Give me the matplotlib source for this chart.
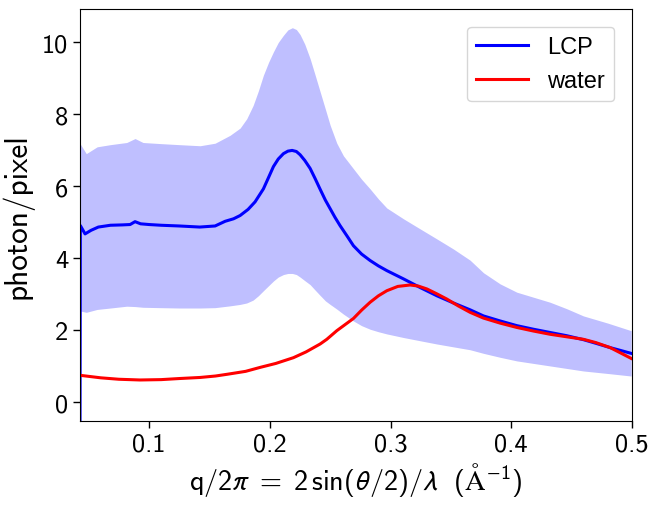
import matplotlib
matplotlib.use("Agg")
import matplotlib.pyplot as plt

plt.rcParams['mathtext.fontset'] = 'custom'
plt.rcParams['mathtext.rm'] = 'cmss10'
plt.rcParams['mathtext.it'] = 'cmmi10'
plt.rcParams['mathtext.sf'] = 'cmss10'
plt.rcParams['mathtext.fallback'] = 'stixsans'
plt.rcParams['axes.unicode_minus'] = False

# LCP mean curve
lcp_q = [0.0428, 0.0431, 0.0470, 0.0520, 0.0580, 0.0680, 0.0780, 0.0843, 0.0884, 0.0930,
         0.1000, 0.1100, 0.1250, 0.1420, 0.1547, 0.1630, 0.1700, 0.1754, 0.1820, 0.1878,
         0.1947, 0.1990, 0.2030, 0.2070, 0.2113, 0.2150, 0.2185, 0.2220, 0.2251, 0.2290,
         0.2334, 0.2375, 0.2417, 0.2460, 0.2500, 0.2540, 0.2582, 0.2640, 0.2693, 0.2760,
         0.2831, 0.2900, 0.2969, 0.3107, 0.3245, 0.3384, 0.3521, 0.3659, 0.3770, 0.3908,
         0.4046, 0.4184, 0.4322, 0.4460, 0.4598, 0.4700, 0.4819, 0.4993]
lcp_i = [-1.0, 4.91, 4.68, 4.78, 4.87, 4.92, 4.93, 4.94, 5.02, 4.96,
         4.94, 4.92, 4.90, 4.87, 4.90, 5.03, 5.10, 5.19, 5.36, 5.57,
         5.93, 6.25, 6.55, 6.76, 6.91, 6.98, 7.00, 6.97, 6.88, 6.72,
         6.50, 6.22, 5.92, 5.62, 5.38, 5.14, 4.91, 4.62, 4.35, 4.12,
         3.94, 3.79, 3.66, 3.43, 3.19, 2.96, 2.76, 2.57, 2.40, 2.26,
         2.13, 2.03, 1.94, 1.85, 1.74, 1.64, 1.52, 1.36]

# LCP spread band (upper / lower)
band_q = [0.0428, 0.0480, 0.0570, 0.0680, 0.0815, 0.0884, 0.0950, 0.1091, 0.1250, 0.1423,
          0.1547, 0.1671, 0.1754, 0.1809, 0.1862, 0.1905, 0.1947, 0.1990, 0.2030, 0.2070,
          0.2113, 0.2150, 0.2187, 0.2220, 0.2251, 0.2290, 0.2334, 0.2375, 0.2417, 0.2460,
          0.2500, 0.2555, 0.2610, 0.2693, 0.2760, 0.2831, 0.2900, 0.2969, 0.3107, 0.3245,
          0.3384, 0.3521, 0.3659, 0.3770, 0.3908, 0.4046, 0.4184, 0.4322, 0.4460, 0.4598,
          0.4800, 0.4993]
band_hi = [7.19, 6.91, 7.10, 7.16, 7.22, 7.33, 7.22, 7.19, 7.16, 7.13,
           7.20, 7.42, 7.62, 7.88, 8.25, 8.65, 9.09, 9.45, 9.74, 10.00,
           10.20, 10.35, 10.41, 10.36, 10.22, 9.95, 9.55, 9.10, 8.63, 8.15,
           7.70, 7.20, 6.85, 6.49, 6.20, 5.93, 5.65, 5.40, 5.10, 4.82,
           4.54, 4.26, 3.95, 3.60, 3.29, 3.06, 2.92, 2.78, 2.60, 2.40,
           2.20, 1.99]
band_lo = [2.54, 2.50, 2.58, 2.62, 2.67, 2.66, 2.64, 2.63, 2.62, 2.62,
           2.63, 2.68, 2.72, 2.76, 2.84, 2.96, 3.10, 3.24, 3.37, 3.48,
           3.55, 3.58, 3.58, 3.55, 3.48, 3.38, 3.27, 3.12, 2.97, 2.82,
           2.72, 2.59, 2.45, 2.26, 2.13, 2.03, 1.96, 1.90, 1.80, 1.71,
           1.62, 1.54, 1.46, 1.36, 1.25, 1.15, 1.08, 1.01, 0.94, 0.87,
           0.80, 0.73]

# water curve
water_q = [0.0428, 0.0600, 0.0750, 0.0925, 0.1100, 0.1250, 0.1423, 0.1550, 0.1650, 0.1800,
           0.1920, 0.2050, 0.2196, 0.2300, 0.2417, 0.2472, 0.2555, 0.2620, 0.2693, 0.2760,
           0.2831, 0.2900, 0.2969, 0.3060, 0.3162, 0.3230, 0.3301, 0.3380, 0.3466, 0.3560,
           0.3659, 0.3770, 0.3908, 0.4046, 0.4184, 0.4322, 0.4460, 0.4598, 0.4700, 0.4819,
           0.4993]
water_i = [0.75, 0.68, 0.64, 0.62, 0.63, 0.66, 0.69, 0.73, 0.78, 0.86,
           0.97, 1.08, 1.24, 1.40, 1.62, 1.75, 1.99, 2.15, 2.33, 2.56,
           2.78, 2.96, 3.10, 3.22, 3.26, 3.23, 3.15, 3.02, 2.87, 2.68,
           2.50, 2.34, 2.20, 2.08, 1.98, 1.89, 1.82, 1.75, 1.66, 1.52,
           1.22]

xticks = [0.1, 0.2, 0.3, 0.4, 0.5]
yticks = [0, 2, 4, 6, 8, 10]

fig = plt.figure(figsize=(6.52, 5.06), dpi=100)
ax = fig.add_axes([80/652, 84/506, 552/652, 412/506])

ax.fill_between(band_q, band_lo, band_hi, color='blue', alpha=0.25, linewidth=0)
ax.plot(lcp_q, lcp_i, color='blue', lw=2.2, label='LCP')
ax.plot(water_q, water_i, color='red', lw=2.2, label='water')

ax.set_xlim(0.0428, 0.5)
ax.set_ylim(-0.52, 10.93)
ax.set_xticks(xticks)
ax.set_yticks(yticks)
ax.set_xticklabels([f'{t:g}' for t in xticks], fontfamily='cmss10', fontsize=19)
ax.set_yticklabels([f'{t:g}' for t in yticks], fontfamily='cmss10', fontsize=19)
ax.tick_params(length=5, width=1)

ax.set_ylabel('photon/pixel', fontfamily='cmss10', fontsize=22.5, labelpad=6)
ax.set_xlabel(r'$\mathrm{q/2}\pi\;=\;\mathrm{2\,sin}(\theta/\mathrm{2})/\lambda\ \ (\mathrm{Å}^{-1})$',
              fontsize=20.3, labelpad=3)

leg = ax.legend(loc='upper right', prop={'family': 'Liberation Sans', 'size': 17},
                handlelength=2.2, borderaxespad=0.75)

fig.savefig('out.png', dpi=100)
